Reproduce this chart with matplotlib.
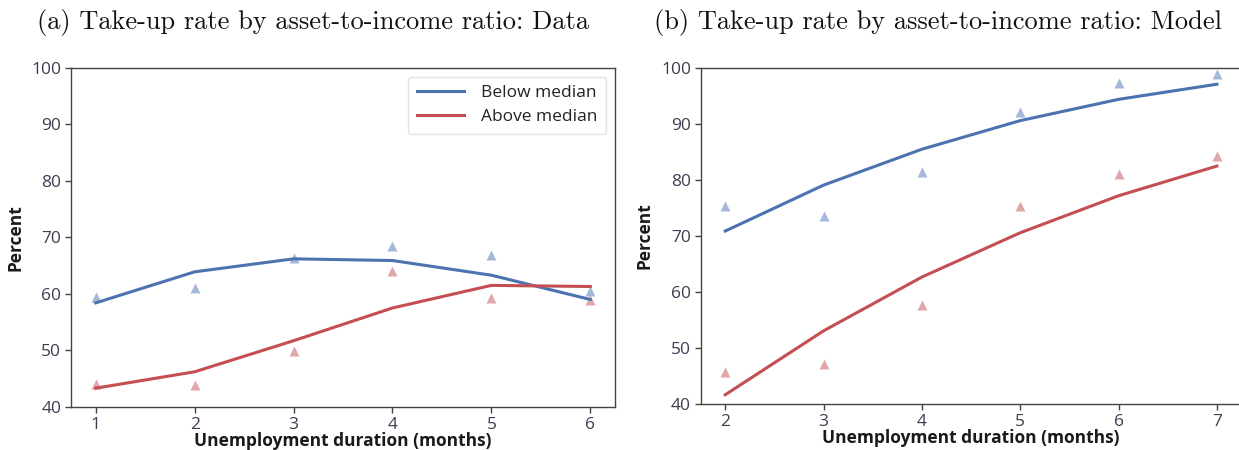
import matplotlib
matplotlib.use("Agg")
import matplotlib.pyplot as plt

# Panel (a): data
months_a = [1, 2, 3, 4, 5, 6]
below_fit_a = [58.4, 63.9, 66.2, 65.9, 63.3, 59.0]
above_fit_a = [43.3, 46.2, 51.7, 57.5, 61.5, 61.3]
below_pts_a = [59.5, 61.0, 66.4, 68.5, 66.8, 60.5]
above_pts_a = [44.1, 43.8, 49.8, 64.1, 59.3, 58.9]

# Panel (b): model
months_b = [2, 3, 4, 5, 6, 7]
below_fit_b = [70.9, 79.1, 85.5, 90.6, 94.4, 97.1]
above_fit_b = [41.7, 53.1, 62.7, 70.6, 77.2, 82.5]
below_pts_b = [75.4, 73.5, 81.4, 92.1, 97.4, 99.0]
above_pts_b = [45.7, 47.1, 57.8, 75.3, 81.1, 84.3]

titles = ["(a) Take-up rate by asset-to-income ratio: Data",
          "(b) Take-up rate by asset-to-income ratio: Model"]
series_labels = ["Below median", "Above median"]

BLUE = "#4C72B0"
RED = "#C44E52"
TXT = "#3b3e50"
SPINE = "#444444"

plt.rcParams["font.family"] = ["Open Sans", "DejaVu Sans"]

fig = plt.figure(figsize=(12.39, 4.5), dpi=100)
ax_a = fig.add_axes([0.0573, 0.0960, 0.4391, 0.7530])
ax_b = fig.add_axes([0.5655, 0.1016, 0.4365, 0.7474])


def draw(ax, x, bf, af, bp, ap, xlim, legend=False):
    ax.plot(x, bf, color=BLUE, lw=2.2, label=series_labels[0], zorder=3)
    ax.plot(x, af, color=RED, lw=2.2, label=series_labels[1], zorder=3)
    ax.plot(x, bp, ls="none", marker="^", ms=7.5, color=BLUE, alpha=0.5,
            mec="none", zorder=2)
    ax.plot(x, ap, ls="none", marker="^", ms=7.5, color=RED, alpha=0.5,
            mec="none", zorder=2)
    ax.set_xlim(*xlim)
    ax.set_ylim(40, 100)
    ax.set_xticks(x)
    ax.set_yticks(range(40, 101, 10))
    for s in ax.spines.values():
        s.set_color(SPINE)
        s.set_linewidth(1.0)
    ax.tick_params(axis="both", colors=SPINE, labelcolor=TXT, labelsize=12.5,
                   length=4, width=1.0, direction="out", pad=3)
    ax.set_xlabel("Unemployment duration (months)", fontsize=12.5,
                  fontweight="bold", color="#1a1a1a", labelpad=-0.5)
    ax.set_ylabel("Percent", fontsize=12.5, fontweight="bold",
                  color="#1a1a1a", labelpad=5)
    if legend:
        leg = ax.legend(loc="upper right", fontsize=12.5, frameon=True,
                        handlelength=2.7, borderpad=0.5, labelspacing=0.45,
                        handletextpad=1.0, fancybox=True,
                        borderaxespad=0.5)
        leg.get_frame().set_edgecolor("#dddddd")
        for t in leg.get_texts():
            t.set_color("#222222")


draw(ax_a, months_a, below_fit_a, above_fit_a, below_pts_a, above_pts_a,
     (0.75, 6.25), legend=True)
draw(ax_b, months_b, below_fit_b, above_fit_b, below_pts_b, above_pts_b,
     (1.75, 7.25))

fig.text(313 / 1239, 1 - 22 / 450, titles[0], family="cmr10", fontsize=19,
         ha="center", va="center", color="#111111")
fig.text(938 / 1239, 1 - 22 / 450, titles[1], family="cmr10", fontsize=19,
         ha="center", va="center", color="#111111")

fig.savefig("out.png", dpi=100)
